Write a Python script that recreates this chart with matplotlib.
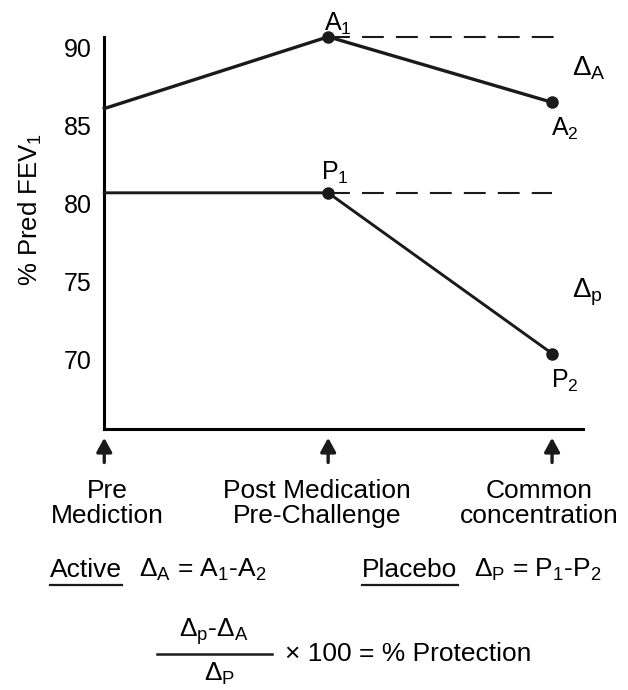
import matplotlib.pyplot as plt
from matplotlib.lines import Line2D

plt.rcParams['font.family'] = ['Liberation Sans', 'DejaVu Sans']
plt.rcParams['mathtext.fontset'] = 'custom'
plt.rcParams['mathtext.rm'] = 'Liberation Sans'
plt.rcParams['mathtext.it'] = 'Liberation Sans'
plt.rcParams['mathtext.sf'] = 'Liberation Sans'

# time points: pre medication, post medication / pre-challenge, common concentration
timepoints = [0, 1, 2]
stage_labels = ['Pre\nMediction', 'Post Medication\nPre-Challenge', 'Common\nconcentration']
active = [86.1, 90.7, 86.5]
placebo = [80.7, 80.7, 70.4]
yticks = [70, 75, 80, 85, 90]

INK = '#1a1a1a'
FS = 19

fig = plt.figure(figsize=(6.28, 6.90), dpi=100)
ax = fig.add_axes([0.166, 0.378, 0.763, 0.568])

ax.plot(timepoints, active, color=INK, lw=2.4, clip_on=False, zorder=3)
ax.plot(timepoints, placebo, color=INK, lw=2.1, clip_on=False, zorder=3)
ax.plot(timepoints[1:], active[1:], 'o', color=INK, ms=8, clip_on=False, zorder=4)
ax.plot(timepoints[1:], placebo[1:], 'o', color=INK, ms=8, clip_on=False, zorder=4)

# dashed reference lines from the post-medication value
ax.plot([timepoints[1], 2.02], [active[1], active[1]], color=INK,
        lw=1.5, ls=(0, (10.5, 5.8)), clip_on=False)
ax.plot([timepoints[1], 2.0], [placebo[1], placebo[1]], color=INK,
        lw=1.5, ls=(0, (10.5, 5.8)), clip_on=False)

ax.set_xlim(0, 2.14)
ax.set_ylim(65.55, 90.67)
ax.set_yticks(yticks)
ax.set_xticks([])
ax.tick_params(axis='y', length=0, labelsize=18, pad=9)
for s in ['top', 'right']:
    ax.spines[s].set_visible(False)
ax.spines['left'].set_linewidth(2.2)
ax.spines['bottom'].set_linewidth(2.2)
ax.set_ylabel('% Pred FEV$_1$', fontsize=18.5)
ax.yaxis.set_label_coords(-0.125, 0.56)

# point labels
kw = dict(fontsize=18, ha='center', textcoords='offset points', annotation_clip=False)
ax.annotate('A$_1$', (timepoints[1], active[1]), xytext=(7, 0), va='bottom', **kw)
ax.annotate('A$_2$', (timepoints[2], active[2]), xytext=(9, -10), va='top', **kw)
ax.annotate('P$_1$', (timepoints[1], placebo[1]), xytext=(5, 5), va='bottom', **kw)
ax.annotate('P$_2$', (timepoints[2], placebo[2]), xytext=(9, -10), va='top', **kw)
ax.text(2.09, 88.25, r'$\Delta_A$', fontsize=20, ha='left', va='baseline')
ax.text(2.09, 74.0, r'$\Delta_p$', fontsize=20, ha='left', va='baseline')

# arrows and stage labels under the axis
label_shift = [2, -8, -9]
for x, lab, dx in zip(timepoints, stage_labels, label_shift):
    ax.annotate('', xy=(x, -0.022), xytext=(x, -0.085),
                xycoords=('data', 'axes fraction'), textcoords=('data', 'axes fraction'),
                arrowprops=dict(arrowstyle='-|>,head_width=0.33,head_length=0.6', lw=2.4,
                                color=INK, mutation_scale=14, shrinkA=0, shrinkB=0),
                annotation_clip=False)
    ax.annotate(lab, xy=(x, -0.128), xycoords=('data', 'axes fraction'),
                xytext=(dx, 0), textcoords='offset points', ha='center', va='top',
                fontsize=FS, linespacing=1.03, annotation_clip=False)

# formulas
y_row = 1 - 577 / 690
t_act = fig.text(0.080, y_row, 'Active', fontsize=FS, va='baseline')
t_pla = fig.text(0.577, y_row, 'Placebo', fontsize=FS, va='baseline')
fig.canvas.draw()
r = fig.canvas.get_renderer()
inv = fig.transFigure.inverted()
for t, rest in ((t_act, r'$\Delta_A$ = A$_1$-A$_2$'), (t_pla, r'$\Delta_P$ = P$_1$-P$_2$')):
    bb = t.get_window_extent(r).transformed(inv)
    fig.add_artist(Line2D([bb.x0, bb.x1], [y_row - 0.012] * 2, transform=fig.transFigure,
                          color=INK, lw=1.6))
    fig.text(bb.x1 + 0.026, y_row, rest, fontsize=FS, va='baseline')

fig.text(0.341, 1 - 637 / 690, r'$\Delta_p$-$\Delta_A$', fontsize=FS, ha='center', va='baseline')
fig.add_artist(Line2D([0.25, 0.433], [1 - 654 / 690] * 2, transform=fig.transFigure, color=INK, lw=1.8))
fig.text(0.35, 0.013, r'$\Delta_P$', fontsize=FS, ha='center', va='baseline')
fig.text(0.454, 1 - 661 / 690, '× 100 = % Protection', fontsize=FS, va='baseline')

fig.savefig('out.png', dpi=100)
